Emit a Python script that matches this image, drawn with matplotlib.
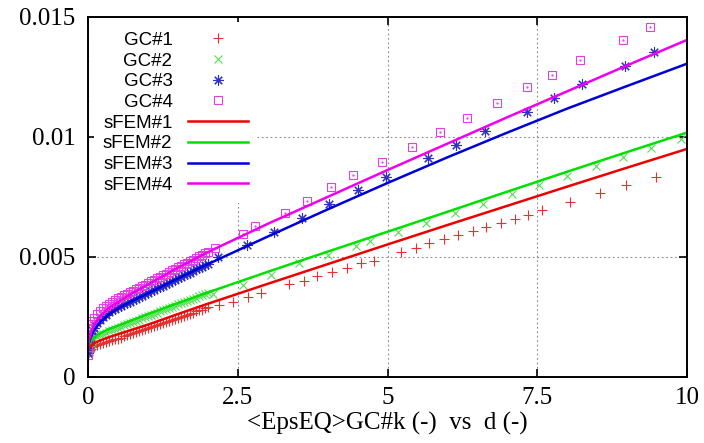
import numpy as np
import matplotlib
matplotlib.use("Agg")
import matplotlib.pyplot as plt

plt.rcParams["font.family"] = "serif"
plt.rcParams["font.serif"] = ["Liberation Serif", "DejaVu Serif"]

# dense part of the GC curves (d from 0 to 2), shared abscissa
d_dense = [0, 0.005, 0.01, 0.02, 0.035, 0.05, 0.075, 0.1, 0.15, 0.2, 0.25, 0.3, 0.35, 0.4, 0.45,
           0.5, 0.55, 0.6, 0.65, 0.7, 0.75, 0.8, 0.85, 0.9, 0.95, 1.0, 1.05, 1.1, 1.15, 1.2,
           1.25, 1.3, 1.35, 1.4, 1.45, 1.5, 1.55, 1.6, 1.65, 1.7, 1.75, 1.8, 1.85, 1.9, 1.95, 2.0]

# values in units of 1e-3
gc1_dense = [0.90, 0.98, 1.03, 1.08, 1.14, 1.18, 1.23, 1.27, 1.33, 1.38, 1.42, 1.46, 1.50, 1.54, 1.57,
             1.60, 1.64, 1.69, 1.73, 1.77, 1.82, 1.86, 1.90, 1.95, 1.99, 2.03, 2.08, 2.12, 2.16, 2.21,
             2.25, 2.29, 2.34, 2.38, 2.42, 2.47, 2.51, 2.55, 2.60, 2.64, 2.68, 2.73, 2.77, 2.81, 2.86, 2.90]
gc2_dense = [0.95, 1.08, 1.15, 1.24, 1.34, 1.41, 1.50, 1.57, 1.66, 1.73, 1.79, 1.85, 1.90, 1.95, 2.00,
             2.05, 2.10, 2.15, 2.19, 2.24, 2.29, 2.34, 2.39, 2.44, 2.49, 2.53, 2.58, 2.63, 2.68, 2.73,
             2.78, 2.82, 2.87, 2.92, 2.97, 3.02, 3.07, 3.11, 3.16, 3.21, 3.26, 3.31, 3.36, 3.40, 3.45, 3.50]
gc3_dense = [1.00, 1.20, 1.32, 1.48, 1.65, 1.78, 1.94, 2.06, 2.24, 2.38, 2.50, 2.60, 2.69, 2.77, 2.84,
             2.90, 2.96, 3.02, 3.08, 3.14, 3.20, 3.26, 3.32, 3.38, 3.45, 3.51, 3.57, 3.63, 3.69, 3.75,
             3.81, 3.87, 3.93, 3.99, 4.05, 4.11, 4.17, 4.23, 4.29, 4.35, 4.41, 4.48, 4.54, 4.60, 4.66, 4.72]
gc4_dense = [0.90, 1.25, 1.50, 1.80, 2.05, 2.20, 2.35, 2.45, 2.62, 2.75, 2.86, 2.96, 3.05, 3.13, 3.20,
             3.27, 3.33, 3.40, 3.46, 3.53, 3.59, 3.66, 3.72, 3.79, 3.85, 3.92, 3.98, 4.05, 4.11, 4.18,
             4.24, 4.31, 4.37, 4.44, 4.50, 4.57, 4.63, 4.70, 4.76, 4.83, 4.89, 4.96, 5.02, 5.09, 5.15, 5.22]

# sparse tails of the GC curves
gc1_d = [2.18, 2.42, 2.67, 2.88, 3.35, 3.60, 3.83, 4.07, 4.32, 4.55, 4.78, 5.23, 5.47, 5.70, 5.95,
         6.18, 6.42, 6.65, 6.90, 7.12, 7.35, 7.58, 8.05, 8.55, 8.98, 9.48]
gc1_e = [3.00, 3.13, 3.33, 3.50, 3.88, 4.00, 4.21, 4.38, 4.54, 4.75, 4.83, 5.21, 5.38, 5.58, 5.75,
         5.92, 6.08, 6.25, 6.42, 6.58, 6.75, 6.94, 7.29, 7.67, 8.00, 8.33]
gc2_d = [2.08, 2.58, 3.05, 3.53, 4.00, 4.47, 4.70, 5.17, 5.65, 6.13, 6.60, 7.07, 7.52, 8.00, 8.48,
         8.93, 9.40, 9.90]
gc2_e = [3.46, 3.83, 4.25, 4.75, 5.08, 5.46, 5.67, 6.04, 6.42, 6.83, 7.21, 7.63, 8.00, 8.38, 8.79,
         9.17, 9.54, 9.92]
gc3_d = [2.17, 2.65, 3.10, 3.57, 4.03, 4.50, 4.98, 5.68, 6.15, 6.63, 7.33, 7.78, 8.25, 8.97, 9.45]
gc3_e = [5.00, 5.50, 6.04, 6.63, 7.21, 7.79, 8.33, 9.13, 9.67, 10.25, 11.04, 11.63, 12.21, 12.96, 13.54]
gc4_d = [2.12, 2.58, 2.78, 3.28, 3.65, 4.05, 4.43, 4.90, 5.40, 5.87, 6.33, 6.82, 7.32, 7.75, 8.22,
         8.93, 9.38]
gc4_e = [5.38, 5.96, 6.29, 6.83, 7.33, 7.92, 8.42, 8.96, 9.58, 10.21, 10.79, 11.42, 12.08, 12.58, 13.21,
         14.04, 14.58]

# sFEM curves
d_fem = [0, 0.02, 0.05, 0.1, 0.2, 0.35, 0.5, 0.75, 1, 1.5, 2, 3, 4, 5, 6, 7, 8, 9, 10]
fem1 = [1.10, 1.22, 1.30, 1.40, 1.52, 1.66, 1.78, 1.98, 2.18, 2.62, 3.05, 3.88, 4.70, 5.52, 6.33, 7.13, 7.93, 8.72, 9.50]
fem2 = [1.15, 1.35, 1.50, 1.65, 1.82, 2.00, 2.14, 2.38, 2.62, 3.08, 3.52, 4.38, 5.22, 6.05, 6.88, 7.72, 8.55, 9.37, 10.18]
fem3 = [1.15, 1.45, 1.70, 1.95, 2.28, 2.60, 2.85, 3.18, 3.48, 4.10, 4.70, 5.85, 6.98, 8.08, 9.15, 10.18, 11.18, 12.12, 13.05]
fem4 = [1.10, 1.55, 1.85, 2.15, 2.52, 2.88, 3.12, 3.50, 3.85, 4.55, 5.20, 6.38, 7.50, 8.62, 9.72, 10.82, 11.90, 12.98, 14.04]

xticks = [0, 2.5, 5, 7.5, 10]
xtick_labels = ["0", "2.5", "5", "7.5", "10"]
yticks = [0, 0.005, 0.01, 0.015]
ytick_labels = ["0", "0.005", "0.01", "0.015"]

fig = plt.figure(figsize=(7.04, 4.43), dpi=100)
ax = fig.add_axes([0.125, 0.149, 0.851, 0.813])

def gc(dense, d, e):
    x = np.concatenate([d_dense, d])
    y = np.concatenate([dense, e]) * 1e-3
    return x, y

x1, y1 = gc(gc1_dense, gc1_d, gc1_e)
x2, y2 = gc(gc2_dense, gc2_d, gc2_e)
x3, y3 = gc(gc3_dense, gc3_d, gc3_e)
x4, y4 = gc(gc4_dense, gc4_d, gc4_e)

ms = 7.5
mew = 0.8
ax.plot(x1, y1, ls="none", marker="+", ms=ms, mew=mew, color="#e83030", label="GC#1")
ax.plot(x2, y2, ls="none", marker="x", ms=ms * 0.85, mew=mew, color="#55dd55", label="GC#2")
ax.plot(x3, y3, ls="none", marker=(8, 2, 0), ms=ms, mew=mew, color="#3030c8", label="GC#3")
ax.plot(x4, y4, ls="none", marker="s", ms=ms * 0.8, mew=mew, mfc="none", color="#e040e0", label="GC#4")
ax.plot(x4, y4, ls="none", marker=".", ms=1.2, color="#e040e0")

fem_x = np.array(d_fem)
ax.plot(fem_x, np.array(fem1) * 1e-3, color="#ee0000", lw=1.8, label="sFEM#1")
ax.plot(fem_x, np.array(fem2) * 1e-3, color="#00e000", lw=1.8, label="sFEM#2")
ax.plot(fem_x, np.array(fem3) * 1e-3, color="#0000d8", lw=1.8, label="sFEM#3")
ax.plot(fem_x, np.array(fem4) * 1e-3, color="#ee00ee", lw=1.8, label="sFEM#4")

ax.set_xlim(0, 10)
ax.set_ylim(0, 0.015)
ax.set_xticks(xticks)
ax.set_xticklabels(xtick_labels, fontsize=18)
ax.set_yticks(yticks)
ax.set_yticklabels(ytick_labels, fontsize=18)
ax.tick_params(direction="in", length=6, width=1.2, top=True, right=True)
ax.tick_params(axis="y", pad=9)
ax.tick_params(axis="x", pad=7)
ax.grid(True, color="#888888", ls=(0, (1.5, 2.5)), lw=0.8)
for s in ax.spines.values():
    s.set_linewidth(1.4)

ax.set_xlabel("<EpsEQ>GC#k (-)  vs  d (-)", fontsize=18, labelpad=2)

leg = ax.legend(loc="upper left", markerfirst=False, frameon=True, fancybox=False,
                prop={"family": ["Liberation Sans", "DejaVu Sans"], "size": 13.5},
                handlelength=3.2, handletextpad=0.8, labelspacing=0.19,
                borderaxespad=0.3, borderpad=0.5)
leg.get_frame().set_facecolor("white")
leg.get_frame().set_edgecolor("none")
leg.get_frame().set_alpha(1)

fig.savefig("out.png", dpi=100, facecolor="white")
